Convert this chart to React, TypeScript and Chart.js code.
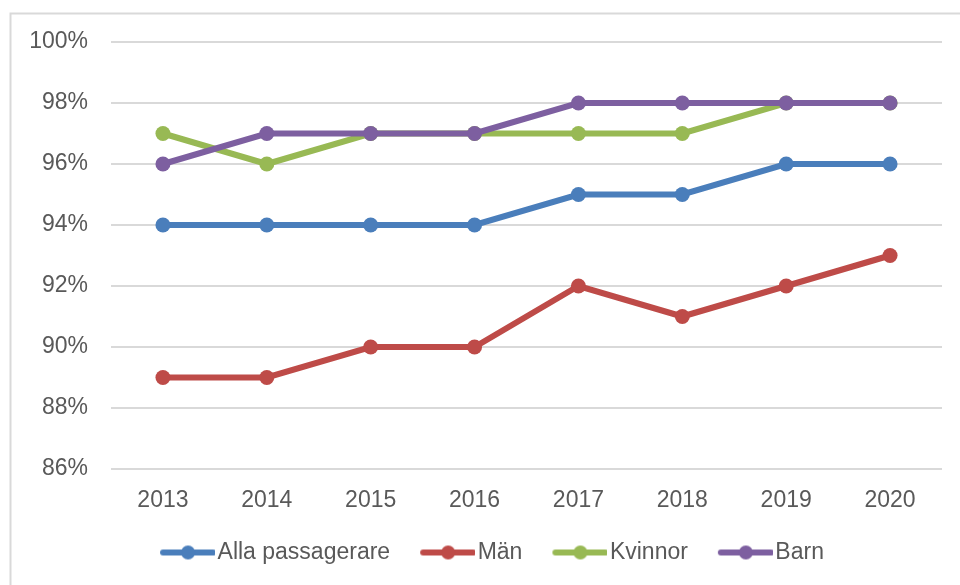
import React, { useEffect, useRef } from "react";
import { Chart, registerables } from "chart.js";

Chart.register(...registerables);

const years = ["2013", "2014", "2015", "2016", "2017", "2018", "2019", "2020"];
const seriesNames = ["Alla passagerare", "Män", "Kvinnor", "Barn"];
const allaValues = [94, 94, 94, 94, 95, 95, 96, 96];
const manValues = [89, 89, 90, 90, 92, 91, 92, 93];
const kvinnorValues = [97, 96, 97, 97, 97, 97, 98, 98];
const barnValues = [96, 97, 97, 97, 98, 98, 98, 98];
const seriesColors = ["#4A7EBB", "#BE4B48", "#98B954", "#7D5FA0"];
const yMin = 86;
const yMax = 100;
const yStep = 2;

const FONT = "'Liberation Sans', Arial, sans-serif";
const TEXT = "#595959";
const GRID = "#d9d9d9";

function makeLegendImage(color: string) {
  const c = document.createElement("canvas");
  c.width = 88;
  c.height = 18;
  const ctx = c.getContext("2d")!;
  ctx.strokeStyle = color;
  ctx.lineWidth = 6;
  ctx.lineCap = "round";
  ctx.beginPath();
  ctx.moveTo(36, 9);
  ctx.lineTo(86, 9);
  ctx.stroke();
  ctx.fillStyle = color;
  ctx.beginPath();
  ctx.arc(61, 9, 7, 0, Math.PI * 2);
  ctx.fill();
  return c;
}

const framePlugin = {
  id: "frame",
  afterDraw(chart: any) {
    const ctx = chart.ctx;
    ctx.save();
    ctx.strokeStyle = GRID;
    ctx.lineWidth = 2;
    ctx.beginPath();
    ctx.moveTo(10.5, 600);
    ctx.lineTo(10.5, 13.5);
    ctx.lineTo(970, 13.5);
    ctx.stroke();
    ctx.restore();
  },
};

export default function App() {
  const ref = useRef<HTMLCanvasElement | null>(null);

  useEffect(() => {
    if (!ref.current) return;
    const values = [allaValues, manValues, kvinnorValues, barnValues];
    const orders = [1, 2, 3, 0];
    const images = seriesColors.map((c) => makeLegendImage(c));
    const chart = new Chart(ref.current, {
      type: "line",
      data: {
        labels: years,
        datasets: seriesNames.map((name, i) => ({
          label: name,
          data: values[i],
          borderColor: seriesColors[i],
          backgroundColor: seriesColors[i],
          borderWidth: 6,
          pointRadius: 7.5,
          pointBorderWidth: 0,
          pointHoverRadius: 7.5,
          pointBackgroundColor: seriesColors[i],
          tension: 0,
          order: orders[i],
        })),
      },
      options: {
        animation: false,
        responsive: false,
        maintainAspectRatio: false,
        layout: { padding: { top: 42, right: 18, bottom: 11, left: 18 } },
        plugins: {
          tooltip: { enabled: false },
          legend: {
            position: "bottom",
            align: "center",
            labels: {
              usePointStyle: true,
              pointStyleWidth: 70,
              padding: 6,
              color: TEXT,
              font: { family: FONT, size: 23 },
              generateLabels: (ch: any) =>
                ch.data.datasets.map((ds: any, i: number) => ({
                  text: ds.label,
                  fillStyle: ds.borderColor,
                  strokeStyle: ds.borderColor,
                  lineWidth: 0,
                  pointStyle: images[i],
                  hidden: false,
                  datasetIndex: i,
                  fontColor: TEXT,
                })),
            },
          },
        },
        scales: {
          x: {
            offset: true,
            grid: { display: false, drawTicks: false },
            border: { display: false },
            ticks: {
              color: TEXT,
              font: { family: FONT, size: 23 },
              padding: 18,
              maxRotation: 0,
            },
            afterFit: (s: any) => {
              s.height = 66;
            },
          },
          y: {
            min: yMin,
            max: yMax,
            grid: { color: GRID, lineWidth: 2, drawTicks: false },
            border: { display: false },
            ticks: {
              stepSize: yStep,
              color: TEXT,
              font: { family: FONT, size: 23 },
              padding: 23,
              callback: (v: any) => v + "%",
            },
            afterFit: (s: any) => {
              s.width = 93;
            },
          },
        },
      },
      plugins: [framePlugin],
    });
    return () => chart.destroy();
  }, []);

  return (
    <div style={{ position: "fixed", left: 0, top: 0, width: 960, height: 585, background: "#fff" }}>
      <canvas ref={ref} width={960} height={585} style={{ width: 960, height: 585, display: "block" }} />
    </div>
  );
}
